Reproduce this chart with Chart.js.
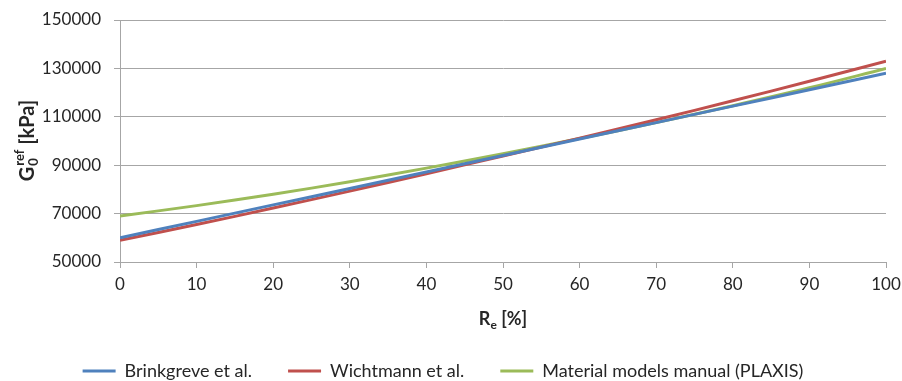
<!DOCTYPE html>
<html>
<head>
<meta charset="utf-8">
<script src="https://cdn.jsdelivr.net/npm/chart.js@4/dist/chart.umd.min.js"></script>
<style>
  html, body { margin: 0; padding: 0; background: #fff; }
  #wrap { width: 902px; height: 381px; }
</style>
</head>
<body>
<div id="wrap"><canvas id="g0Chart" width="902" height="381"></canvas></div>
<script>
// R_e [%] on the x axis
const reValues = [0, 10, 20, 30, 40, 50, 60, 70, 80, 90, 100];
// G0ref [kPa]
const brinkgreve = [60000, 66800, 73600, 80400, 87200, 94000, 100800, 107600, 114400, 121200, 128000];
const wichtmann = [59000, 65500, 72300, 79300, 86500, 93800, 101200, 108800, 116600, 124700, 133000];
const plaxis = [69000, 73300, 78000, 83200, 88800, 94700, 101000, 107600, 114600, 122000, 130000];
const seriesNames = ["Brinkgreve et al.", "Wichtmann et al.", "Material models manual (PLAXIS)"];
const yTicks = [50000, 70000, 90000, 110000, 130000, 150000];

const FONT = "Lato, 'Open Sans', 'Liberation Sans', sans-serif";
const TEXT_COLOR = "#262626";
const GRID = "#a6a6a6";

// legend sits low, close under the x title
const legendHeight = {
    id: "legendHeight",
    beforeLayout(chart) {
        const lg = chart.legend;
        if (lg && !lg._fixed) {
            const fit = lg.fit;
            lg.fit = function () {
                fit.call(this);
                this.height = 55;
            };
            lg._fixed = true;
        }
    }
};

const axisTitles = {
    id: "axisTitles",
    afterDraw(chart) {
        const ctx = chart.ctx;
        const area = chart.chartArea;
        ctx.save();
        ctx.fillStyle = TEXT_COLOR;
        ctx.textBaseline = "alphabetic";
        ctx.textAlign = "left";

        // x title: R_e [%]
        let big = "bold 18px " + FONT;
        let small = "bold 12px " + FONT;
        ctx.font = big;
        const wR = ctx.measureText("R").width;
        const wRest = ctx.measureText(" [%]").width;
        ctx.font = small;
        const we = ctx.measureText("e").width;
        let x = (area.left + area.right) / 2 - (wR + we + wRest) / 2;
        const yb = 325;
        ctx.font = big;
        ctx.fillText("R", x, yb);
        x += wR;
        ctx.font = small;
        ctx.fillText("e", x, yb + 4);
        x += we;
        ctx.font = big;
        ctx.fillText(" [%]", x, yb);

        // y title: G_0^ref [kPa], rotated
        big = "bold 20px " + FONT;
        small = "bold 13px " + FONT;
        ctx.translate(34, (area.top + area.bottom) / 2);
        ctx.rotate(-Math.PI / 2);
        ctx.font = big;
        const wG = ctx.measureText("G").width;
        const wK = ctx.measureText(" [kPa]").width;
        ctx.font = small;
        const w0 = ctx.measureText("0").width;
        const wref = ctx.measureText("ref").width;
        const wSub = Math.max(w0, wref);
        let px = -(wG + wSub + wK) / 2;
        ctx.font = big;
        ctx.fillText("G", px, 0);
        px += wG + 1;
        ctx.font = small;
        ctx.fillText("0", px, 4);
        ctx.fillText("ref", px, -10);
        px += wSub;
        ctx.font = big;
        ctx.fillText(" [kPa]", px, 0);
        ctx.restore();
    }
};

const ctx = document.getElementById("g0Chart").getContext("2d");
new Chart(ctx, {
    type: "line",
    data: {
        labels: reValues,
        datasets: [
            {
                label: seriesNames[0],
                data: brinkgreve,
                borderColor: "#4F81BD",
                backgroundColor: "#4F81BD",
                borderWidth: 3,
                pointRadius: 0,
                tension: 0.4,
            },
            {
                label: seriesNames[1],
                data: wichtmann,
                borderColor: "#C0504D",
                backgroundColor: "#C0504D",
                borderWidth: 3,
                pointRadius: 0,
                tension: 0.4,
            },
            {
                label: seriesNames[2],
                data: plaxis,
                borderColor: "#9BBB59",
                backgroundColor: "#9BBB59",
                borderWidth: 3,
                pointRadius: 0,
                tension: 0.4,
            },
        ],
    },
    options: {
        responsive: false,
        animation: false,
        layout: { padding: { left: 0, right: 16, top: 20, bottom: 0 } },
        plugins: {
            tooltip: { enabled: false },
            legend: {
                position: "bottom",
                labels: {
                    usePointStyle: true,
                    pointStyle: "line",
                    pointStyleWidth: 33,
                    boxHeight: 3,
                    padding: 36,
                    color: TEXT_COLOR,
                    font: { family: FONT, size: 18 },
                },
            },
        },
        scales: {
            x: {
                type: "linear",
                min: 0,
                max: 100,
                ticks: {
                    stepSize: 10,
                    color: TEXT_COLOR,
                    font: { family: FONT, size: 17 },
                    padding: 6,
                    maxRotation: 0,
                },
                grid: {
                    display: true,
                    drawOnChartArea: false,
                    drawTicks: true,
                    tickLength: 6,
                    color: GRID,
                },
                border: { color: GRID, width: 1 },
                afterFit(scale) {
                    scale.height = 64;
                    scale.paddingRight = 0;
                    scale.paddingLeft = 0;
                },
            },
            y: {
                min: 50000,
                max: 150000,
                afterBuildTicks(scale) {
                    scale.ticks = yTicks.map((v) => ({ value: v }));
                },
                ticks: {
                    color: TEXT_COLOR,
                    font: { family: FONT, size: 17 },
                    padding: 13,
                    callback: (v) => String(v),
                },
                grid: {
                    color: GRID,
                    tickLength: 6,
                },
                border: { color: GRID, width: 1 },
                afterFit(scale) {
                    scale.width = 120;
                    scale.paddingTop = 0;
                    scale.paddingBottom = 0;
                },
            },
        },
    },
    plugins: [legendHeight, axisTitles],
});
</script>
</body>
</html>
